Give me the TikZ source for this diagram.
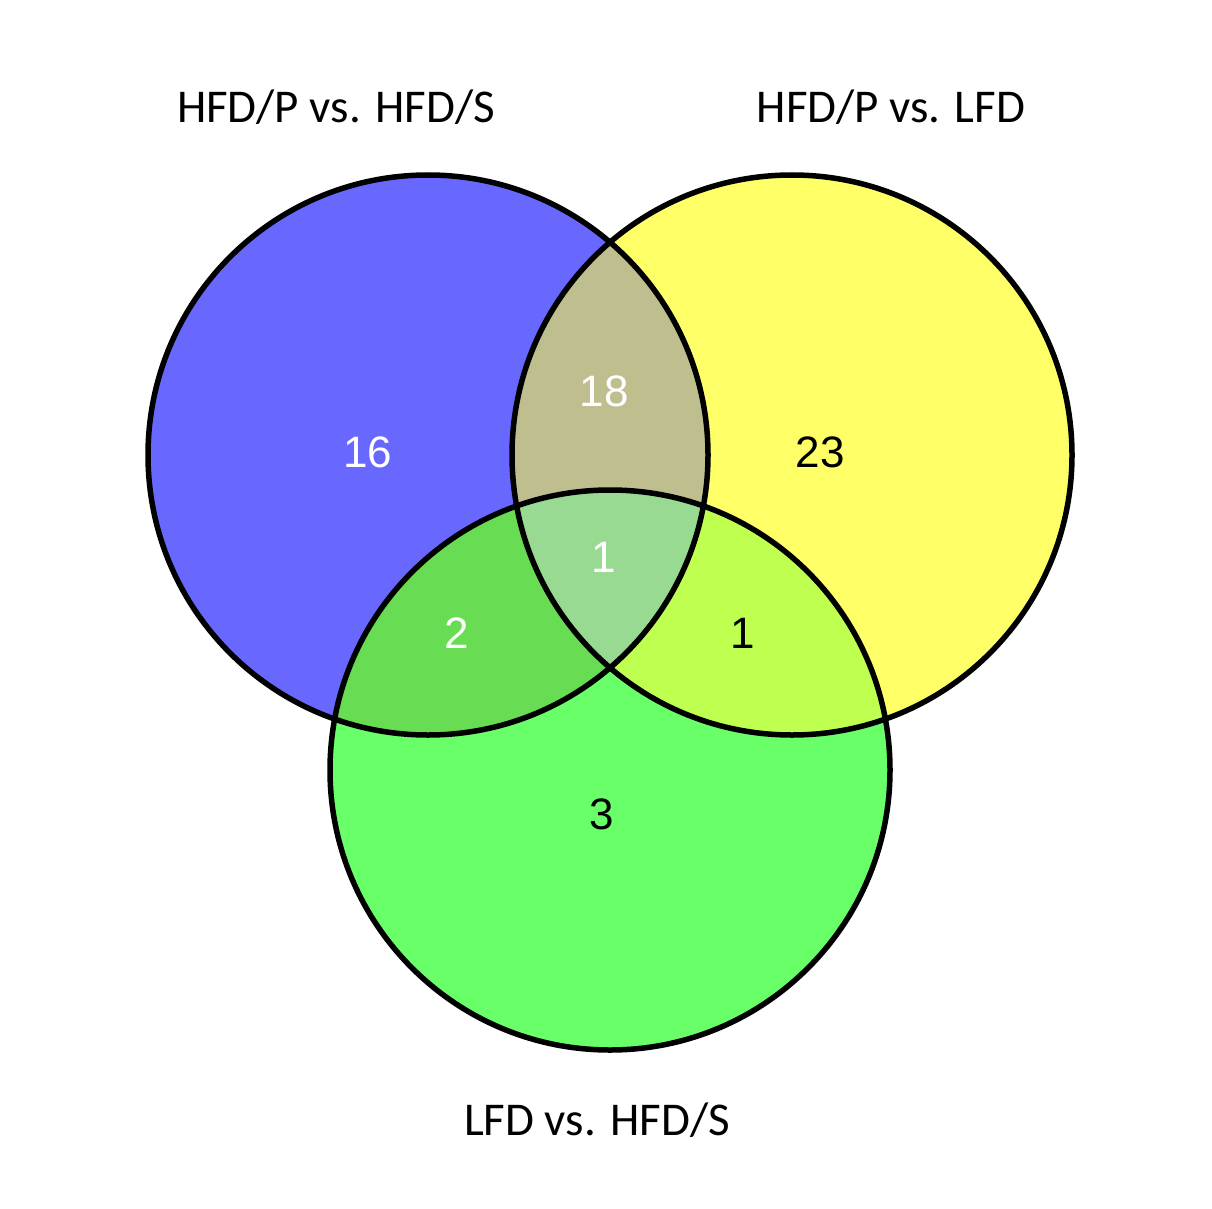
\documentclass[tikz,border=0pt]{standalone}
\usepackage{fontspec}
\newfontfamily\labfont{Carlito}
\newfontfamily\numfont{Liberation Sans}
\definecolor{cBlue}{RGB}{104,104,255}
\definecolor{cYellow}{RGB}{255,255,104}
\definecolor{cGreen}{RGB}{104,255,104}
\definecolor{cBY}{RGB}{191,190,143}
\definecolor{cBG}{RGB}{104,220,82}
\definecolor{cYG}{RGB}{191,255,80}
\definecolor{cAll}{RGB}{153,218,147}
\tikzset{
  setline/.style={draw=black,line width=5.5pt},
  lab/.style={font=\labfont\fontsize{47}{56}\selectfont,anchor=base,inner sep=0pt},
  num/.style={font=\numfont\fontsize{44}{52}\selectfont,inner sep=0pt},
}
\begin{document}
\begin{tikzpicture}[x=1pt,y=-1pt]
\useasboundingbox[fill=white] (0,0) rectangle (1212,1209);
\coordinate (cA) at (428,455);
\coordinate (cB) at (792,455);
\coordinate (cC) at (610,770);
\def\R{280pt}
% base fills
\fill[cBlue] (cA) circle (\R);
\fill[cYellow] (cB) circle (\R);
\fill[cGreen] (cC) circle (\R);
% pairwise intersections
\begin{scope}\clip (cA) circle (\R); \fill[cBY] (cB) circle (\R);\end{scope}
\begin{scope}\clip (cA) circle (\R); \fill[cBG] (cC) circle (\R);\end{scope}
\begin{scope}\clip (cB) circle (\R); \fill[cYG] (cC) circle (\R);\end{scope}
% triple intersection
\begin{scope}\clip (cA) circle (\R); \clip (cB) circle (\R); \fill[cAll] (cC) circle (\R);\end{scope}
% outlines
\draw[setline] (cA) circle (\R);
\draw[setline] (cB) circle (\R);
\draw[setline] (cC) circle (\R);
% set labels
\node[lab] (labA) at (336,123) {HFD/P vs. HFD/S};
\node[lab] (labB) at (891,123) {HFD/P vs. LFD};
\node[lab] (labC) at (597,1135) {LFD vs. HFD/S};
% counts
\node[num,text=white] (nA) at (368,452) {16};
\node[num,text=white] (nAB) at (604,391) {18};
\node[num,text=black] (nB) at (820,452) {23};
\node[num,text=white] (nABC) at (604,557) {1};
\node[num,text=white] (nAC) at (457,633) {2};
\node[num,text=black] (nBC) at (743,633) {1};
\node[num,text=black] (nC) at (602,814) {3};
\end{tikzpicture}
\end{document}
